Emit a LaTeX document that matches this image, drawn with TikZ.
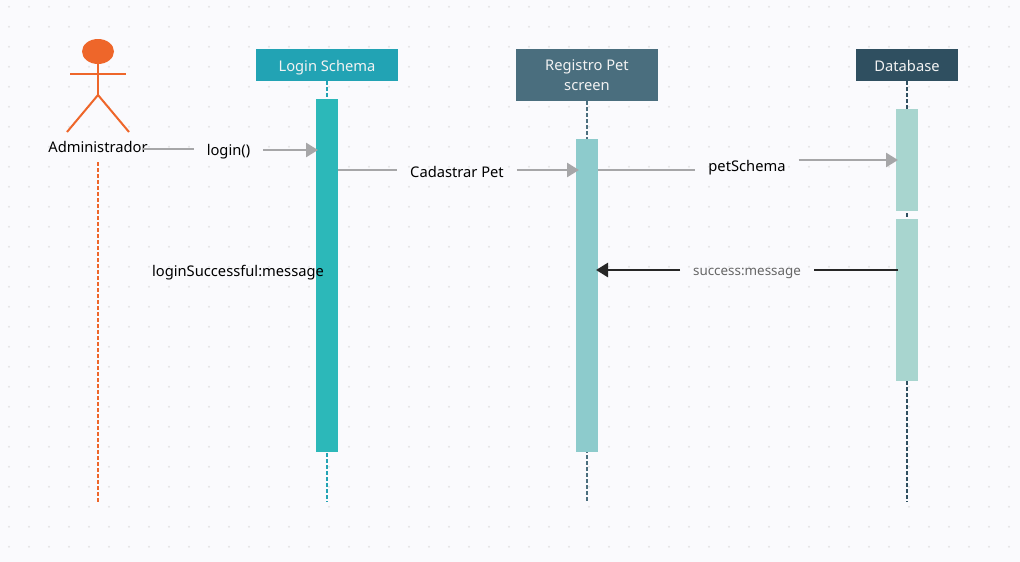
\documentclass[tikz,border=0pt]{standalone}
\usepackage{fontspec}
\setmainfont{Noto Sans}
\usepackage{xcolor}
\usetikzlibrary{positioning, arrows.meta, shapes.geometric}

\definecolor{canvasbg}{HTML}{FAFAFD}
\definecolor{griddot}{HTML}{E4E4E6}
\definecolor{actororange}{HTML}{EE662A}
\definecolor{loginhead}{HTML}{22A3B4}
\definecolor{loginbarfill}{HTML}{2CB8B9}
\definecolor{reghead}{HTML}{4A6E7E}
\definecolor{regbarfill}{HTML}{8DCBCC}
\definecolor{dbhead}{HTML}{2F4F60}
\definecolor{dbbarfill}{HTML}{A8D5CF}
\definecolor{msggrey}{HTML}{A6A6A8}

\begin{document}
\begin{tikzpicture}[
    x=1pt, y=-1pt,
    font=\fontsize{14.7}{20}\selectfont,
    head/.style={rectangle, text=white!95!black, minimum height=32pt, inner sep=0pt, outer sep=0pt, align=center, text height=15pt, text depth=3pt},
    bar/.style={rectangle, minimum width=22pt, inner sep=0pt, outer sep=0pt},
    lifeline/.style={line width=2pt, dash pattern=on 4pt off 2pt},
    limb/.style={draw=actororange, line width=2pt},
    msglabel/.style={inner ysep=0pt, inner xsep=13pt, outer sep=0pt},
    msg/.style={draw=msggrey, line width=2.6pt},
    msgarrow/.style={msg, -{Triangle[length=12pt,width=14pt]}},
    reply/.style={draw=black!85, line width=2.6pt},
    replyarrow/.style={reply, -{Triangle[length=12pt,width=14pt]}}
]

% Canvas
\path[fill=canvasbg, use as bounding box] (0,0) rectangle (1020,562);
\foreach \i in {0,...,50} {
    \foreach \j in {0,...,27} {
        \fill[griddot] ({9+20*\i},{6.7+20*\j}) circle (1.1pt);
    }
}

% Heads
\node[head, fill=loginhead, minimum width=142pt, anchor=north west] (login) at (256,49) {Login Schema};
\node[head, fill=reghead, minimum width=142pt, minimum height=52pt, text height=34pt, text depth=3pt, right=118pt of login.north east, anchor=north west] (registro) {Registro Pet\\screen};
\node[head, fill=dbhead, minimum width=102pt, right=198pt of registro.north east, anchor=north west] (database) {Database};

% Line ends
\coordinate (adminend) at (98,502);
\coordinate (loginend) at (327,502);
\coordinate (registroend) at (587,502);
\coordinate (databaseend) at (907,502);

% Actor
\node[fill=actororange, ellipse, minimum width=32pt, minimum height=25pt, inner sep=0pt, outer sep=0pt] (adminhead) at (98,51.5) {};
\coordinate (adminhip) at (98,95);
\coordinate (adminlarm) at (70,74.3);
\coordinate (adminrarm) at (126,74.3);
\coordinate (adminlleg) at (67,132);
\coordinate (adminrleg) at (129,132);
\node[inner sep=0pt, outer sep=0pt] (adminname) at (98,147) {Administrador};
\coordinate (adminstart) at (98,162);
\draw[limb] (adminhead.south) -- (adminhip);
\draw[limb] (adminlarm) -- (adminrarm);
\draw[limb] (adminlleg) -- (adminhip) -- (adminrleg);
\draw[lifeline, actororange] (adminstart) -- (adminend);

% Lifelines
\draw[lifeline, loginhead] (login.south) -- (loginend);
\draw[lifeline, reghead] (registro.south) -- (registroend);
\draw[lifeline, dbhead] (database.south) -- (databaseend);

% Bars
\node[bar, fill=loginbarfill, minimum height=353pt, below=18pt of login] (loginbar) {};
\node[bar, fill=regbarfill, minimum height=313pt, below=38pt of registro] (registrobar) {};
\node[bar, fill=dbbarfill, minimum height=102pt, below=28pt of database] (dbbarone) {};
\node[bar, fill=dbbarfill, minimum height=162pt, below=8pt of dbbarone] (dbbartwo) {};

% Labels
\node[msglabel] (loginlabel) at (228.5,152) {login()};
\node[msglabel] (cadastrarlabel) at (457,171.5) {Cadastrar Pet};
\node[msglabel] (petlabel) at (747,168) {petSchema};
\node[msglabel, text=black!60, font=\fontsize{13.4}{16}\selectfont] (successlabel) at (747,273.5) {success:message};
\node[inner sep=0pt, outer sep=0pt] (replylabel) at (238,273) {loginSuccessful:message};

% Arrows
\coordinate (adminout) at (143,149);
\coordinate (loginin) at (318,150);
\coordinate (loginout) at (338,170);
\coordinate (registroin) at (579,170);
\coordinate (registroout) at (598,170);
\coordinate (databasein) at (898,160);
\coordinate (databaseout) at (898,270);
\coordinate (registroback) at (596,270);

\draw[msg] (adminout) -- (adminout -| loginlabel.west);
\draw[msgarrow] (loginin -| loginlabel.east) -- (loginin);
\draw[msg] (loginout) -- (loginout -| cadastrarlabel.west);
\draw[msgarrow] (registroin -| cadastrarlabel.east) -- (registroin);
\draw[msg] (registroout) -- (registroout -| petlabel.west);
\draw[msgarrow] (databasein -| petlabel.east) -- (databasein);
\draw[reply] (databaseout) -- (databaseout -| successlabel.east);
\draw[replyarrow] (registroback -| successlabel.west) -- (registroback);

\end{tikzpicture}
\end{document}
